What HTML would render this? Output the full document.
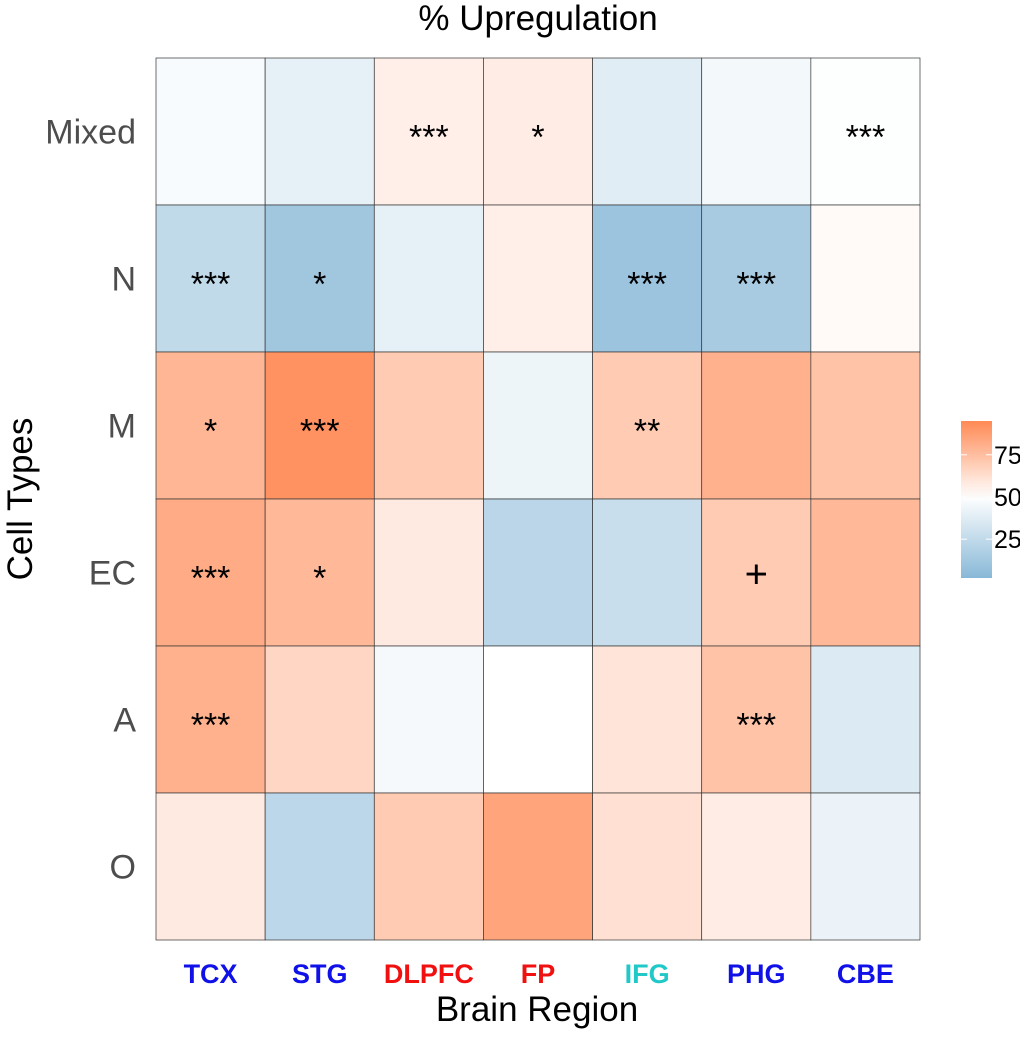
<!DOCTYPE html>
<html><head><meta charset="utf-8"><style>
body{margin:0;background:#fff;font-family:"Liberation Sans",sans-serif}
</style></head><body>
<svg id="chart" width="1020" height="1033" xmlns="http://www.w3.org/2000/svg"></svg>
<script>
const regions=["TCX","STG","DLPFC","FP","IFG","PHG","CBE"];
const regionColors=["#1010e8","#1010e8","#f01010","#f01010","#20c8c8","#1010e8","#1010e8"];
const cellTypes=["Mixed","N","M","EC","A","O"];
const values=[
[47,40,56,57,38,45,49],
[25,12,40,56,10,15,52],
[78,92,70,43,70,80,73],
[82,77,58,22,28,70,77],
[80,66,46,50,60,73,36],
[58,23,70,85,62,57,42]];
const sig=[
["","","***","*","","","***"],
["***","*","","","***","***",""],
["*","***","","","**","",""],
["***","*","","","","+",""],
["***","","","","","***",""],
["","","","","","",""]];
const legendTicks=[25,50,75];
const vmin=2,vmax=95;
const NS="http://www.w3.org/2000/svg";
const svg=document.getElementById('chart');
function mk(t,a,p){const e=document.createElementNS(NS,t);for(const k in a)e.setAttribute(k,a[k]);(p||svg).appendChild(e);return e;}
const x0=156,x1=920,y0=58,y1=940;
const cw=(x1-x0)/regions.length,ch=(y1-y0)/cellTypes.length;
const xs=i=>x0+i*cw, ys=j=>y0+j*ch;
const lo=[136,184,215],mid=[255,255,255],hi=[255,138,85];
function col(v){let a,b,t;if(v<50){a=lo;b=mid;t=(v-vmin)/(50-vmin);}else{a=mid;b=hi;t=(v-50)/(vmax-50);}t=Math.max(0,Math.min(1,t));return `rgb(${a.map((c,i)=>Math.round(c+(b[i]-c)*t)).join(',')})`;}
values.forEach((row,j)=>row.forEach((v,i)=>{
 const r=mk('rect',{x:xs(i),y:ys(j),width:cw,height:ch,fill:col(v),stroke:'#333','stroke-width':0.7});
 
 
 if(sig[j][i]){const s=sig[j][i]==='+';
  const t=mk('text',{x:xs(i)+cw/2,y:ys(j)+ch/2+(s?15:17),'text-anchor':'middle','font-size':s?40:34,fill:'#000'});t.textContent=sig[j][i];
  
  }
}));
cellTypes.forEach((c,j)=>{const t=mk('text',{x:136,y:ys(j)+ch/2+12,'text-anchor':'end','font-size':34,fill:'#4d4d4d'});t.textContent=c;
 
 });
regions.forEach((r,i)=>{const t=mk('text',{x:xs(i)+cw/2,y:983,'text-anchor':'middle','font-size':27,'font-weight':'bold',fill:regionColors[i]});t.textContent=r;
 
 });
let t=mk('text',{x:538,y:30,'text-anchor':'middle','font-size':35});t.textContent='% Upregulation';

t=mk('text',{x:537,y:1021,'text-anchor':'middle','font-size':35});t.textContent='Brain Region';

t=mk('text',{x:0,y:0,'text-anchor':'middle','font-size':35,transform:'translate(32,499) rotate(-90)'});t.textContent='Cell Types';

const lx=961,lw=31,ly0=421,ly1=578;
const ly=v=>ly1-(v-vmin)/(vmax-vmin)*(ly1-ly0);
const defs=mk('defs',{});const g=mk('linearGradient',{id:'lg',x1:0,y1:1,x2:0,y2:0},defs);
for(let k=0;k<=10;k++){const v=vmin+(vmax-vmin)*k/10;mk('stop',{offset:k/10,'stop-color':col(v)},g);}
const lr=mk('rect',{x:lx,y:ly0,width:lw,height:ly1-ly0,fill:'url(#lg)'});

legendTicks.forEach(v=>{mk('line',{x1:lx,x2:lx+6,y1:ly(v),y2:ly(v),stroke:'#fff'});mk('line',{x1:lx+lw-6,x2:lx+lw,y1:ly(v),y2:ly(v),stroke:'#fff'});
 const tt=mk('text',{x:lx+lw+2,y:ly(v)+9,'font-size':25});tt.textContent=v;
 });
</script>
</body></html>
